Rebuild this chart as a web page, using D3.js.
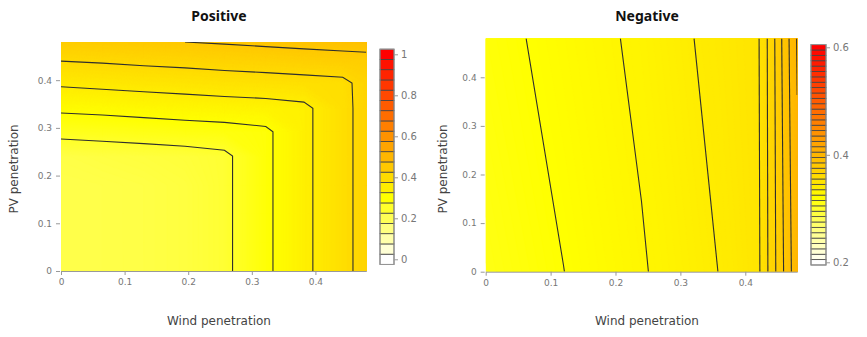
<!DOCTYPE html>
<html>
<head>
<meta charset="UTF-8">
<script src="https://cdn.jsdelivr.net/npm/d3@7"></script>
<style>
	body { margin: 0; background: #fff; }
	.tick text { font-family: "DejaVu Sans", sans-serif; font-size: 9px; fill: #777; }
	.tick line { stroke: #999; }
	.domain { stroke: #999; }
	.Title { font-family: "Noto Sans", sans-serif; font-size: 14px; font-weight: bold; fill: #111; }
	.AxisTitle { font-family: "DejaVu Sans", sans-serif; font-size: 12px; fill: #444; }
</style>
</head>
<body>
<svg id="Chart" width="867" height="337"></svg>
<script>
// Positive panel: grid of the surface (rows = PV penetration, columns = Wind penetration)
var posWind = [0, 0.065, 0.13, 0.195, 0.257, 0.322, 0.382, 0.443, 0.48];
var posPV = [0, 0.06, 0.12, 0.18, 0.241, 0.292, 0.341, 0.394, 0.44, 0.48];
var posZ = [
	[0.212, 0.214, 0.218, 0.225, 0.240, 0.291, 0.339, 0.387, 0.417],
	[0.212, 0.214, 0.218, 0.225, 0.240, 0.291, 0.339, 0.387, 0.417],
	[0.212, 0.214, 0.218, 0.225, 0.240, 0.291, 0.339, 0.387, 0.417],
	[0.212, 0.214, 0.218, 0.225, 0.240, 0.291, 0.339, 0.387, 0.417],
	[0.217, 0.222, 0.226, 0.231, 0.240, 0.291, 0.339, 0.387, 0.417],
	[0.264, 0.268, 0.273, 0.278, 0.282, 0.291, 0.339, 0.387, 0.417],
	[0.309, 0.313, 0.318, 0.323, 0.327, 0.331, 0.339, 0.387, 0.417],
	[0.357, 0.362, 0.367, 0.371, 0.376, 0.380, 0.384, 0.389, 0.417],
	[0.400, 0.404, 0.409, 0.413, 0.418, 0.422, 0.427, 0.431, 0.433],
	[0.436, 0.441, 0.445, 0.450, 0.454, 0.459, 0.463, 0.467, 0.470]
];
var posLevels = [0.25, 0.3, 0.35, 0.4, 0.45];
var posBarTicks = [0, 0.2, 0.4, 0.6, 0.8, 1];

// Negative panel
var negWind = [0, 0.12, 0.24, 0.36, 0.42, 0.44, 0.46, 0.48];
var negPV = [0, 0.48];
var negZ = [
	[0.3108, 0.3199, 0.3290, 0.3402, 0.3480, 0.3642, 0.3808, 0.3975],
	[0.3159, 0.3238, 0.3323, 0.3437, 0.3490, 0.3649, 0.3836, 0.4008]
];
var negLevels = [0.32, 0.33, 0.34, 0.35, 0.36, 0.37, 0.38, 0.39, 0.40];
var negBarTicks = [0.2, 0.4, 0.6];

var axisTicks = [0, 0.1, 0.2, 0.3, 0.4];

var Svg = d3.select("#Chart");
var Fmt = d3.format("~g");

function MakeColor(Lo, Hi)
{
	return d3.scaleLinear()
		.domain([Lo, Lo + 0.3 * (Hi - Lo), Hi])
		.range(["#ffffff", "#ffff00", "#ff0000"])
		.clamp(true);
}

function DrawPanel(Opt)
{
	var X = d3.scaleLinear().domain([0, 0.48]).range([Opt.X0, Opt.X1]);
	var Y = d3.scaleLinear().domain([0, 0.48]).range([Opt.Y0, Opt.Y1]);
	var N = Opt.Wind.length, M = Opt.PV.length;
	// contour grid coordinates -> data values (values sit at cell centres)
	var IX = d3.scaleLinear().domain(Opt.Wind.map(function(d, i){ return i + 0.5; })).range(Opt.Wind).clamp(true);
	var IY = d3.scaleLinear().domain(Opt.PV.map(function(d, i){ return i + 0.5; })).range(Opt.PV).clamp(true);
	var Values = Opt.Z.flat();
	var Color = MakeColor(Opt.Lo, Opt.Hi);

	var ClipId = "clip" + Opt.Name;
	Svg.append("clipPath").attr("id", ClipId)
		.append("rect")
		.attr("x", Opt.X0).attr("y", Opt.Y1)
		.attr("width", Opt.X1 - Opt.X0).attr("height", Opt.Y0 - Opt.Y1);

	var G = Svg.append("g").attr("clip-path", "url(#" + ClipId + ")");

	var Proj = d3.geoTransform({
		point: function(a, b) { this.stream.point(X(IX(a)), Y(IY(b))); }
	});
	var GeoPath = d3.geoPath(Proj);

	// smooth fill, drawn as many thin bands
	var ZMin = d3.min(Values), ZMax = d3.max(Values);
	var FillLevels = d3.range(Math.floor(ZMin / Opt.Step) * Opt.Step, ZMax, Opt.Step);
	G.selectAll(".Band")
		.data(d3.contours().size([N, M]).thresholds(FillLevels)(Values))
		.enter()
		.append("path")
		.attr("class", "Band")
		.attr("d", GeoPath)
		.attr("fill", function(d){ return Color(d.value + Opt.Step / 2); })
		.attr("stroke", function(d){ return Color(d.value + Opt.Step / 2); })
		.attr("stroke-width", 0.4);

	// contour lines, without the parts that run along the plot border
	function SameEdge(a, b)
	{
		return (a[0] <= 0.5 && b[0] <= 0.5) || (a[0] >= N - 0.5 && b[0] >= N - 0.5) ||
			(a[1] <= 0.5 && b[1] <= 0.5) || (a[1] >= M - 0.5 && b[1] >= M - 0.5);
	}
	var Segs = [];
	d3.contours().size([N, M]).thresholds(Opt.Levels)(Values).forEach(function(C){
		C.coordinates.forEach(function(Poly){
			Poly.forEach(function(Ring){
				var Run = null;
				for (var k = 1; k < Ring.length; k++)
				{
					var a = Ring[k - 1], b = Ring[k];
					if (SameEdge(a, b)) { if (Run) Segs.push(Run); Run = null; }
					else { if (!Run) Run = [a]; Run.push(b); }
				}
				if (Run) Segs.push(Run);
			});
		});
	});
	var Line = d3.line()
		.x(function(d){ return X(IX(d[0])); })
		.y(function(d){ return Y(IY(d[1])); });
	G.selectAll(".CLine")
		.data(Segs)
		.enter()
		.append("path")
		.attr("class", "CLine")
		.attr("d", Line)
		.attr("fill", "none")
		.attr("stroke", "#2e2e2e")
		.attr("stroke-width", 1.1);

	// axes
	var XAxis = d3.axisBottom(X).tickValues(axisTicks).tickFormat(Fmt).tickSize(4).tickSizeOuter(0).tickPadding(4);
	Svg.append("g").attr("transform", "translate(0," + Opt.Y0 + ")").call(XAxis);
	var YAxis = d3.axisLeft(Y).tickValues(axisTicks).tickFormat(Fmt).tickSize(4).tickPadding(4);
	var YG = Svg.append("g").attr("transform", "translate(" + (Opt.X0 - 1) + ",0)").call(YAxis);
	YG.select(".domain").remove();

	// colour bar
	var CB = d3.scaleLinear().domain([Opt.Lo, Opt.Hi]).range([Opt.CbY0, Opt.CbY1]);
	var Centers = d3.range(Opt.Lo, Opt.Hi + Opt.CbStep / 2, Opt.CbStep);
	var CbG = Svg.append("g");
	CbG.selectAll("rect")
		.data(Centers)
		.enter()
		.append("rect")
		.attr("x", Opt.CbX)
		.attr("width", Opt.CbW)
		.attr("y", function(d){ return CB(d + Opt.CbStep / 2); })
		.attr("height", function(d){ return CB(d - Opt.CbStep / 2) - CB(d + Opt.CbStep / 2); })
		.attr("fill", function(d){ return Color(d); })
		.attr("stroke", "#444")
		.attr("stroke-width", 0.8);
	CbG.append("rect")
		.attr("x", Opt.CbX).attr("width", Opt.CbW)
		.attr("y", CB(Opt.Hi + Opt.CbStep / 2))
		.attr("height", CB(Opt.Lo - Opt.CbStep / 2) - CB(Opt.Hi + Opt.CbStep / 2))
		.attr("fill", "none").attr("stroke", "#999").attr("stroke-width", 1);
	var CbAxis = d3.axisRight(CB).tickValues(Opt.BarTicks).tickFormat(Fmt).tickSize(4).tickPadding(3);
	var CbAG = Svg.append("g").attr("transform", "translate(" + (Opt.CbX + Opt.CbW) + ",0)").call(CbAxis);
	CbAG.select(".domain").remove();
	CbAG.selectAll("text").style("font-size", "10px");

	// titles
	Svg.append("text").attr("class", "Title")
		.attr("x", Opt.TitleX).attr("y", 21).attr("text-anchor", "middle").text(Opt.Title);
	Svg.append("text").attr("class", "AxisTitle")
		.attr("x", Opt.TitleX).attr("y", 325).attr("text-anchor", "middle").text("Wind penetration");
	Svg.append("text").attr("class", "AxisTitle")
		.attr("transform", "translate(" + Opt.YTitleX + ",169) rotate(-90)")
		.attr("text-anchor", "middle").text("PV penetration");
}

DrawPanel({
	Name: "Pos", Title: "Positive", Wind: posWind, PV: posPV, Z: posZ, Levels: posLevels,
	X0: 61, X1: 366.3, Y0: 271, Y1: 42, Step: 0.002,
	Lo: 0, Hi: 1, CbStep: 0.05, CbX: 380, CbW: 14, CbY0: 259.3, CbY1: 54.3, BarTicks: posBarTicks,
	TitleX: 219, YTitleX: 18
});

DrawPanel({
	Name: "Neg", Title: "Negative", Wind: negWind, PV: negPV, Z: negZ, Levels: negLevels,
	X0: 485.7, X1: 797.2, Y0: 271.7, Y1: 38.4, Step: 0.001,
	Lo: 0.2, Hi: 0.6, CbStep: 0.01, CbX: 811, CbW: 15, CbY0: 262.3, CbY1: 47.3, BarTicks: negBarTicks,
	TitleX: 647, YTitleX: 447
});
</script>
</body>
</html>
